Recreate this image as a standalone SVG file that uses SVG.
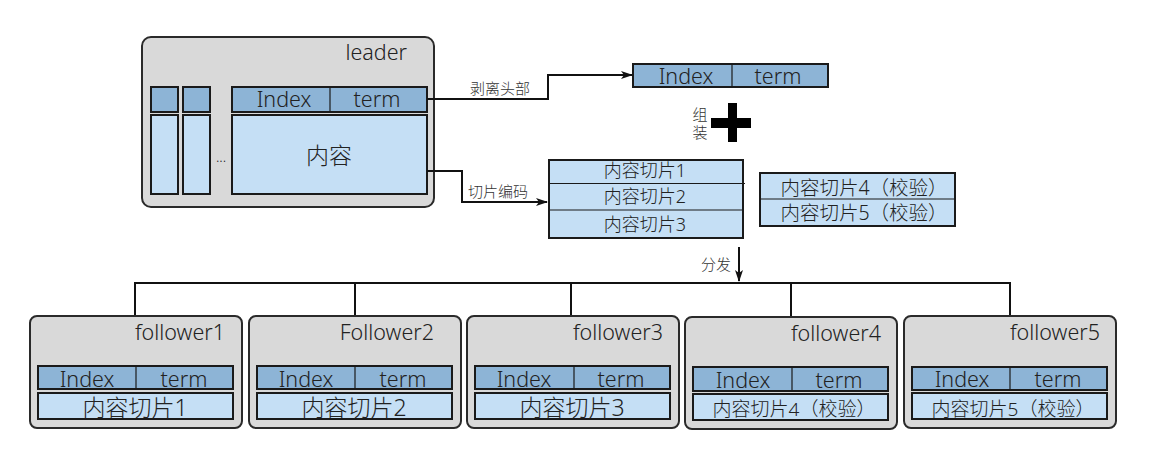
<svg xmlns="http://www.w3.org/2000/svg" width="1150" height="472" viewBox="0 0 1150 472">
<defs>
<style>
.box{fill:#d9d9d9;stroke:#2a2a2a;stroke-width:2}
.hd{fill:#8db4d6;stroke:#1a1a1a;stroke-width:2}
.ct{fill:#c5dff5;stroke:#1a1a1a;stroke-width:2}
.dv{stroke:#1a1a1a;stroke-width:1.2}
.ln{fill:none;stroke:#111;stroke-width:2}
text{font-family:"Noto Sans","Noto Sans CJK SC",sans-serif;fill:#222;font-weight:300}
.t21{font-size:21.5px}
.mid{text-anchor:middle}
.end{text-anchor:end}
.lb{font-size:15px;fill:#333}
</style>
<marker id="ar" markerWidth="12" markerHeight="10" refX="11" refY="5" orient="auto" markerUnits="userSpaceOnUse">
<path d="M0,1 L12,5 L0,9 L3,5 z" fill="#111"/>
</marker>
</defs>
<rect width="1150" height="472" fill="#fff"/>

<g id="leader">
<rect class="box" x="142" y="37" width="292" height="170" rx="9"/>
<text class="t21 end" x="407" y="60">leader</text>
<rect class="hd" x="151" y="87" width="27" height="25"/>
<rect class="ct" x="151" y="115" width="27" height="79"/>
<rect class="hd" x="183" y="87" width="27" height="25"/>
<rect class="ct" x="183" y="115" width="27" height="79"/>
<text x="221" y="162" class="mid" style="font-size:14px">...</text>
<rect class="hd" x="232" y="87" width="195" height="25"/>
<line class="dv" x1="330" y1="87" x2="330" y2="112"/>
<text class="t21 mid" x="284" y="107">Index</text>
<text class="t21 mid" x="377" y="107">term</text>
<rect class="ct" x="232" y="115" width="195" height="79"/>
<text class="mid" x="329" y="164" style="font-size:23px">内容</text>
</g>

<g id="header">
<rect class="hd" x="633" y="64" width="195" height="23"/>
<line class="dv" x1="732" y1="64" x2="732" y2="87"/>
<text class="t21 mid" x="686" y="84">Index</text>
<text class="t21 mid" x="778" y="84">term</text>
</g>

<g id="assemble">
<text class="lb" x="700" y="120" text-anchor="middle">组</text>
<text class="lb" x="700" y="138" text-anchor="middle">装</text>
<rect x="711" y="118" width="40" height="10" fill="#000"/>
<rect x="728" y="103" width="9" height="39" fill="#000"/>
</g>

<g id="slices">
<rect class="ct" x="549" y="160" width="194" height="78"/>
<line class="dv" x1="549" y1="183.5" x2="745" y2="183.5"/>
<line class="dv" x1="549" y1="210" x2="743" y2="210"/>
<text class="mid" x="645" y="177" style="font-size:18px">内容切片1</text>
<text class="mid" x="645" y="203" style="font-size:18px">内容切片2</text>
<text class="mid" x="645" y="231" style="font-size:18px">内容切片3</text>
</g>

<g id="parity">
<rect class="ct" x="760" y="173" width="195" height="53"/>
<line class="dv" x1="760" y1="199" x2="955" y2="199"/>
<text class="mid" x="864" y="195" style="font-size:19.5px">内容切片4（校验）</text>
<text class="mid" x="864" y="220" style="font-size:19.5px">内容切片5（校验）</text>
</g>

<g id="connectors">
<polyline class="ln" points="427,99 548,99 548,75 632,75" marker-end="url(#ar)"/>
<polyline class="ln" points="427,171 462,171 462,202 547,202" marker-end="url(#ar)"/>
<line class="ln" x1="739" y1="247" x2="739" y2="281" marker-end="url(#ar)"/>
<polyline class="ln" points="135,316 135,283 1010,283 1010,316"/>
<line class="ln" x1="355" y1="283" x2="355" y2="316"/>
<line class="ln" x1="571" y1="283" x2="571" y2="316"/>
<line class="ln" x1="791" y1="283" x2="791" y2="317"/>
<text class="lb" x="500" y="94" text-anchor="middle">剥离头部</text>
<text class="lb" x="498" y="197" text-anchor="middle">切片编码</text>
<text class="lb" x="716" y="270" text-anchor="middle">分发</text>
</g>

<g id="follower1">
<rect class="box" x="30" y="316" width="212" height="112" rx="7"/>
<text class="t21 end" x="225" y="340">follower1</text>
<rect class="hd" x="38" y="366" width="195" height="23"/>
<line class="dv" x1="136" y1="366" x2="136" y2="389"/>
<text class="t21 mid" x="87" y="387">Index</text>
<text class="t21 mid" x="184" y="387">term</text>
<rect class="ct" x="38" y="393" width="195" height="26"/>
<text class="mid" x="135" y="416" style="font-size:23px">内容切片1</text>
</g>

<g id="follower2">
<rect class="box" x="249" y="316" width="212" height="112" rx="7"/>
<text class="t21 end" x="434" y="340">Follower2</text>
<rect class="hd" x="257" y="366" width="195" height="23"/>
<line class="dv" x1="355" y1="366" x2="355" y2="389"/>
<text class="t21 mid" x="306" y="387">Index</text>
<text class="t21 mid" x="403" y="387">term</text>
<rect class="ct" x="257" y="393" width="195" height="26"/>
<text class="mid" x="354" y="416" style="font-size:23px">内容切片2</text>
</g>

<g id="follower3">
<rect class="box" x="467" y="316" width="212" height="112" rx="7"/>
<text class="t21 end" x="663" y="340">follower3</text>
<rect class="hd" x="475" y="366" width="195" height="23"/>
<line class="dv" x1="574" y1="366" x2="574" y2="389"/>
<text class="t21 mid" x="524" y="387">Index</text>
<text class="t21 mid" x="621" y="387">term</text>
<rect class="ct" x="475" y="393" width="195" height="26"/>
<text class="mid" x="572" y="416" style="font-size:23px">内容切片3</text>
</g>

<g id="follower4">
<rect class="box" x="685" y="317" width="212" height="112" rx="7"/>
<text class="t21 end" x="881" y="341">follower4</text>
<rect class="hd" x="693" y="367" width="195" height="24"/>
<line class="dv" x1="792" y1="367" x2="792" y2="391"/>
<text class="t21 mid" x="743" y="388">Index</text>
<text class="t21 mid" x="839" y="388">term</text>
<rect class="ct" x="693" y="394" width="195" height="26"/>
<text class="mid" x="794" y="416" style="font-size:19px">内容切片4（校验）</text>
</g>

<g id="follower5">
<rect class="box" x="904" y="316" width="212" height="112" rx="7"/>
<text class="t21 end" x="1100" y="340">follower5</text>
<rect class="hd" x="912" y="367" width="195" height="23"/>
<line class="dv" x1="1010" y1="367" x2="1010" y2="390"/>
<text class="t21 mid" x="962" y="387">Index</text>
<text class="t21 mid" x="1058" y="387">term</text>
<rect class="ct" x="912" y="393" width="195" height="26"/>
<text class="mid" x="1013" y="416" style="font-size:19px">内容切片5（校验）</text>
</g>
</svg>
